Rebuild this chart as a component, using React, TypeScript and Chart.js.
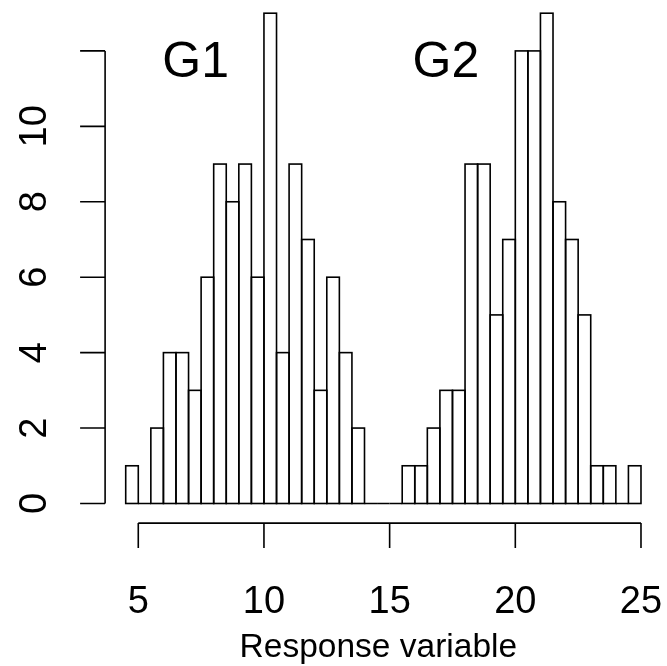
import React, { useEffect, useRef } from "react";
import { Chart, registerables } from "chart.js";

Chart.register(...registerables);

// Histogram bins (width 0.5) — centres
const binCenters = [
  4.75, 5.25, 5.75, 6.25, 6.75, 7.25, 7.75, 8.25, 8.75, 9.25, 9.75, 10.25, 10.75,
  11.25, 11.75, 12.25, 12.75, 13.25, 13.75, 14.25, 14.75, 15.25, 15.75, 16.25,
  16.75, 17.25, 17.75, 18.25, 18.75, 19.25, 19.75, 20.25, 20.75, 21.25, 21.75,
  22.25, 22.75, 23.25, 23.75, 24.25, 24.75,
];

// Frequencies per bin
const counts = [
  1, 0, 2, 4, 4, 3, 6, 9, 8, 9, 6, 13, 4, 9, 7, 3, 6, 4, 2,
  0, 0, 0,
  1, 1, 2, 3, 3, 9, 9, 5, 7, 12, 12, 13, 8, 7, 5, 1, 1, 0, 1,
];

const xTicks = [5, 10, 15, 20, 25];
const xTickLabels = ["5", "10", "15", "20", "25"];
const yTicks = [0, 2, 4, 6, 8, 10, 12];
const yTickLabels = ["0", "2", "4", "6", "8", "10", ""];

const groupLabels = ["G1", "G2"];
const groupLabelX = [7.28, 17.24];
const groupLabelY = [11.68, 11.68];

const xTitle = "Response variable";

const FONT = '"Liberation Sans", Arial, Helvetica, sans-serif';

const rPlugin = {
  id: "rstyle",
  afterDatasetsDraw(chart: any) {
    const ctx = chart.ctx;
    const meta = chart.getDatasetMeta(0);
    ctx.save();
    ctx.strokeStyle = "#000";
    ctx.lineWidth = 1.6;
    meta.data.forEach((bar: any) => {
      const p = bar.getProps(["x", "y", "base", "width"], true);
      ctx.strokeRect(p.x - p.width / 2, p.y, p.width, p.base - p.y);
    });
    ctx.restore();
  },
  afterDraw(chart: any) {
    const ctx = chart.ctx;
    const xs = chart.scales.x;
    const ys = chart.scales.y;
    const area = chart.chartArea;
    const tickLen = 25;
    ctx.save();
    ctx.strokeStyle = "#000";
    ctx.fillStyle = "#000";
    ctx.lineWidth = 1.6;

    // x axis
    const axY = area.bottom;
    const x0 = xs.getPixelForValue(xTicks[0]);
    const x1 = xs.getPixelForValue(xTicks[xTicks.length - 1]);
    ctx.beginPath();
    ctx.moveTo(x0, axY);
    ctx.lineTo(x1, axY);
    xTicks.forEach((t) => {
      const px = xs.getPixelForValue(t);
      ctx.moveTo(px, axY);
      ctx.lineTo(px, axY + tickLen);
    });
    ctx.stroke();
    ctx.font = `38px ${FONT}`;
    ctx.textAlign = "center";
    ctx.textBaseline = "alphabetic";
    xTicks.forEach((t, i) => {
      ctx.fillText(xTickLabels[i], xs.getPixelForValue(t), 613);
    });

    // y axis
    const axX = area.left;
    const y0 = ys.getPixelForValue(yTicks[0]);
    const y1 = ys.getPixelForValue(yTicks[yTicks.length - 1]);
    ctx.beginPath();
    ctx.moveTo(axX, y0);
    ctx.lineTo(axX, y1);
    yTicks.forEach((t) => {
      const py = ys.getPixelForValue(t);
      ctx.moveTo(axX, py);
      ctx.lineTo(axX - tickLen, py);
    });
    ctx.stroke();
    yTicks.forEach((t, i) => {
      if (!yTickLabels[i]) return;
      ctx.save();
      ctx.translate(46, ys.getPixelForValue(t));
      ctx.rotate(-Math.PI / 2);
      ctx.fillText(yTickLabels[i], 0, 0);
      ctx.restore();
    });

    // x title
    ctx.font = `33.5px ${FONT}`;
    ctx.fillText(xTitle, (area.left + area.right) / 2 - 5, 657);

    // group labels
    ctx.font = `50px ${FONT}`;
    ctx.textBaseline = "middle";
    groupLabels.forEach((g, i) => {
      ctx.fillText(g, xs.getPixelForValue(groupLabelX[i]), ys.getPixelForValue(groupLabelY[i]));
    });
    ctx.restore();
  },
};

export default function App() {
  const ref = useRef<HTMLCanvasElement>(null);
  useEffect(() => {
    if (!ref.current) return;
    const chart = new Chart(ref.current, {
      type: "bar",
      data: {
        datasets: [
          {
            data: binCenters.map((x, i) => ({ x, y: counts[i] })),
            backgroundColor: "#ffffff",
            borderWidth: 0,
            barPercentage: 1,
            categoryPercentage: 1,
          } as any,
        ],
      },
      options: {
        animation: false,
        responsive: false,
        events: [],
        layout: { padding: { left: 105.1, right: 5.4, top: 0, bottom: 142.9 } },
        plugins: { legend: { display: false }, tooltip: { enabled: false } },
        scales: {
          x: { type: "linear", min: 3.68, max: 25.82, display: false, offset: false },
          y: { type: "linear", min: -0.52, max: 13.35, display: false },
        },
      },
      plugins: [rPlugin],
    });
    return () => chart.destroy();
  }, []);
  return (
    <div style={{ position: "absolute", left: 0, top: 0, width: 667, height: 666, background: "#fff" }}>
      <canvas ref={ref} width={667} height={666} style={{ display: "block" }} />
    </div>
  );
}
